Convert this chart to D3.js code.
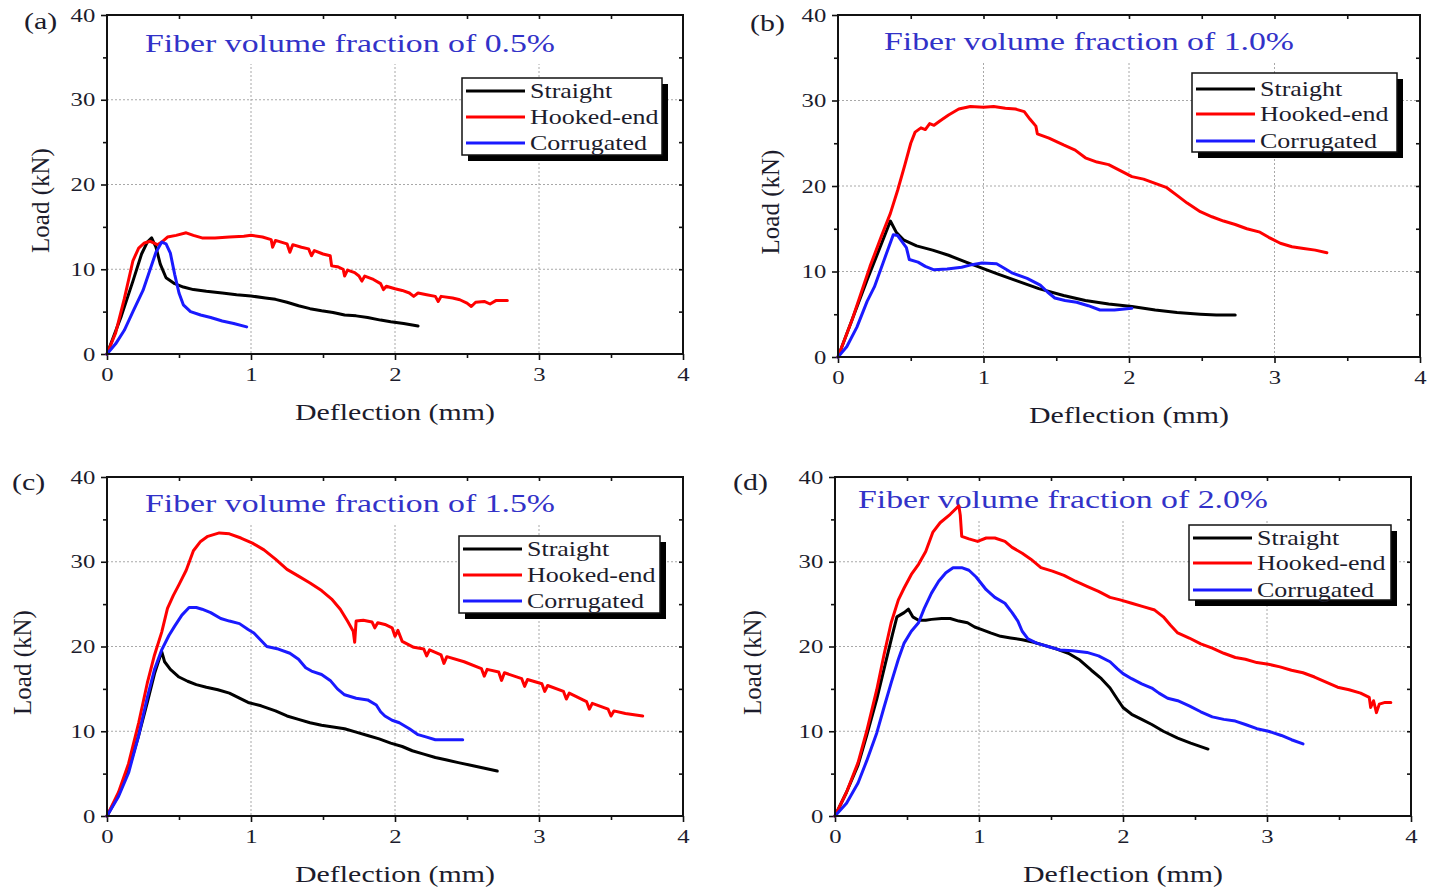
<!DOCTYPE html>
<html>
<head>
<meta charset="utf-8">
<script src="https://cdn.jsdelivr.net/npm/d3@7"></script>
<style>
  body { margin: 0; background: #fff; }
  svg { display: block; font-family: "Liberation Serif", "Times New Roman", serif; }
</style>
</head>
<body>
<svg id="canvas" width="1438" height="890"></svg>
<script>
// Series names and colours
const seriesNames = ["Straight", "Hooked-end", "Corrugated"];
const seriesColors = ["#000000", "#ff0000", "#1a1aff"];
const xTicks = [0, 1, 2, 3, 4];
const yTicks = [0, 10, 20, 30, 40];
const panelLetters = ["(a)", "(b)", "(c)", "(d)"];
const fractions = ["0.5%", "1.0%", "1.5%", "2.0%"];

// (a) Fiber volume fraction 0.5% - [deflection mm, load kN]
const straight05 = [[0,0],[0.1,4.5],[0.18,8.6],[0.24,11.8],[0.28,13.2],[0.31,13.7],[0.34,12.6],[0.37,10.6],[0.41,9.0],[0.47,8.3],[0.53,7.9],[0.6,7.6],[0.69,7.4],[0.8,7.2],[0.9,7.0],[1.0,6.85],[1.1,6.6],[1.17,6.45],[1.25,6.1],[1.33,5.7],[1.41,5.35],[1.49,5.1],[1.57,4.9],[1.65,4.6],[1.73,4.5],[1.81,4.3],[1.9,4.0],[1.97,3.8],[2.06,3.6],[2.16,3.3]];
const hooked05 = [[0,0],[0.06,2.5],[0.12,6.5],[0.18,11.0],[0.22,12.5],[0.26,13.1],[0.3,13.3],[0.35,12.9],[0.38,13.2],[0.42,13.8],[0.48,14.0],[0.55,14.3],[0.6,14.0],[0.66,13.7],[0.75,13.7],[0.85,13.8],[0.95,13.9],[1.0,14.0],[1.08,13.8],[1.14,13.5],[1.15,12.6],[1.17,13.4],[1.25,13.0],[1.27,12.0],[1.29,12.9],[1.35,12.6],[1.4,12.4],[1.42,11.6],[1.44,12.2],[1.5,11.8],[1.55,11.6],[1.56,10.4],[1.6,10.3],[1.64,10.0],[1.65,9.2],[1.67,9.9],[1.72,9.6],[1.75,9.2],[1.77,8.6],[1.79,9.2],[1.85,8.8],[1.9,8.3],[1.92,7.6],[1.94,8.0],[2.0,7.7],[2.05,7.5],[2.1,7.2],[2.13,6.8],[2.16,7.2],[2.22,7.0],[2.28,6.8],[2.3,6.2],[2.32,6.8],[2.4,6.6],[2.45,6.4],[2.5,6.0],[2.53,5.6],[2.56,6.1],[2.62,6.2],[2.66,5.9],[2.7,6.3],[2.78,6.3]];
const corrugated05 = [[0,0],[0.06,1.2],[0.12,2.8],[0.18,5.0],[0.25,7.5],[0.3,10.0],[0.34,12.0],[0.38,13.2],[0.41,13.0],[0.44,11.9],[0.47,9.4],[0.5,7.2],[0.53,5.8],[0.58,5.0],[0.65,4.6],[0.72,4.3],[0.8,3.9],[0.88,3.6],[0.97,3.2]];

// (b) 1.0%
const straight10 = [[0,0],[0.1,4.5],[0.2,9.0],[0.3,13.3],[0.36,15.9],[0.4,14.6],[0.45,13.7],[0.54,13.0],[0.65,12.5],[0.76,11.9],[0.88,11.1],[0.99,10.4],[1.1,9.7],[1.23,8.9],[1.38,8.0],[1.55,7.2],[1.7,6.6],[1.86,6.2],[2.02,5.9],[2.18,5.5],[2.33,5.2],[2.49,5.0],[2.6,4.9],[2.73,4.9]];
const hooked10 = [[0,0],[0.1,4.5],[0.22,10.6],[0.3,14.2],[0.36,16.8],[0.41,19.5],[0.46,22.5],[0.5,25.0],[0.53,26.3],[0.57,26.8],[0.6,26.6],[0.63,27.3],[0.66,27.1],[0.7,27.6],[0.76,28.3],[0.83,29.0],[0.91,29.3],[1.0,29.2],[1.07,29.3],[1.15,29.1],[1.22,29.0],[1.28,28.7],[1.32,27.8],[1.36,27.0],[1.37,26.1],[1.45,25.6],[1.55,24.8],[1.63,24.2],[1.7,23.3],[1.78,22.8],[1.86,22.5],[1.94,21.8],[2.02,21.1],[2.1,20.8],[2.18,20.3],[2.26,19.8],[2.33,18.9],[2.4,18.0],[2.49,17.0],[2.57,16.4],[2.65,15.9],[2.73,15.5],[2.81,15.0],[2.9,14.6],[2.96,14.0],[3.04,13.3],[3.12,12.9],[3.2,12.7],[3.28,12.5],[3.36,12.2]];
const corrugated10 = [[0,0],[0.06,1.2],[0.13,3.5],[0.2,6.5],[0.25,8.2],[0.32,11.5],[0.38,14.3],[0.41,14.2],[0.44,13.5],[0.47,12.8],[0.49,11.4],[0.55,11.1],[0.6,10.6],[0.66,10.2],[0.75,10.3],[0.85,10.5],[0.92,10.8],[0.99,11.0],[1.09,10.9],[1.14,10.4],[1.2,9.8],[1.3,9.2],[1.39,8.4],[1.44,7.6],[1.49,6.9],[1.56,6.6],[1.64,6.4],[1.72,6.0],[1.8,5.5],[1.9,5.5],[2.02,5.7]];

// (c) 1.5%
const straight15 = [[0,0],[0.08,2.5],[0.15,5.5],[0.22,9.5],[0.28,13.4],[0.33,16.8],[0.38,19.4],[0.4,18.2],[0.44,17.3],[0.5,16.4],[0.56,15.9],[0.62,15.5],[0.69,15.2],[0.77,14.9],[0.85,14.5],[0.92,13.9],[0.98,13.4],[1.07,13.0],[1.17,12.4],[1.25,11.8],[1.33,11.4],[1.41,11.0],[1.49,10.7],[1.57,10.5],[1.65,10.3],[1.73,9.9],[1.81,9.5],[1.89,9.1],[1.97,8.6],[2.05,8.2],[2.12,7.7],[2.2,7.3],[2.28,6.9],[2.36,6.6],[2.44,6.3],[2.55,5.9],[2.63,5.6],[2.71,5.3]];
const hooked15 = [[0,0],[0.08,2.8],[0.15,6.2],[0.22,11.0],[0.28,15.7],[0.33,19.0],[0.38,21.7],[0.42,24.5],[0.46,26.0],[0.5,27.3],[0.55,29.0],[0.6,31.3],[0.65,32.4],[0.7,33.0],[0.78,33.4],[0.85,33.3],[0.93,32.8],[1.01,32.2],[1.09,31.4],[1.17,30.3],[1.25,29.1],[1.33,28.3],[1.41,27.5],[1.49,26.6],[1.56,25.6],[1.62,24.4],[1.67,23.0],[1.71,21.8],[1.72,20.5],[1.73,23.0],[1.78,23.1],[1.84,22.9],[1.86,22.2],[1.88,22.8],[1.93,22.6],[1.98,22.2],[2.0,21.2],[2.02,21.9],[2.05,20.6],[2.13,19.9],[2.2,19.7],[2.22,18.9],[2.24,19.6],[2.32,19.0],[2.34,18.0],[2.36,18.8],[2.48,18.2],[2.6,17.4],[2.62,16.5],[2.64,17.3],[2.72,17.0],[2.74,16.0],[2.76,16.9],[2.88,16.2],[2.9,15.3],[2.92,16.1],[3.02,15.6],[3.04,14.7],[3.06,15.4],[3.17,14.7],[3.19,13.8],[3.21,14.5],[3.33,13.5],[3.35,12.6],[3.37,13.3],[3.48,12.6],[3.5,11.8],[3.52,12.4],[3.6,12.1],[3.72,11.8]];
const corrugated15 = [[0,0],[0.08,2.3],[0.15,5.1],[0.22,9.5],[0.28,14.0],[0.33,17.3],[0.38,19.6],[0.43,21.3],[0.47,22.4],[0.52,23.7],[0.57,24.6],[0.62,24.6],[0.66,24.4],[0.72,24.0],[0.79,23.3],[0.85,23.0],[0.92,22.7],[0.98,22.0],[1.02,21.6],[1.07,20.7],[1.11,20.0],[1.19,19.7],[1.27,19.2],[1.33,18.5],[1.38,17.5],[1.42,17.1],[1.49,16.7],[1.55,16.0],[1.6,15.0],[1.65,14.3],[1.73,13.9],[1.81,13.7],[1.87,13.1],[1.9,12.3],[1.93,11.8],[1.98,11.3],[2.03,11.0],[2.1,10.3],[2.16,9.6],[2.22,9.3],[2.28,9.0],[2.38,9.0],[2.47,9.0]];

// (d) 2.0%
const straight20 = [[0,0],[0.08,2.8],[0.16,6.0],[0.22,9.5],[0.29,13.8],[0.35,18.0],[0.4,21.5],[0.43,23.5],[0.48,24.0],[0.51,24.4],[0.54,23.5],[0.58,23.1],[0.63,23.1],[0.67,23.2],[0.74,23.3],[0.8,23.3],[0.86,23.0],[0.92,22.8],[0.97,22.3],[1.02,22.0],[1.08,21.6],[1.15,21.2],[1.22,21.0],[1.3,20.8],[1.38,20.5],[1.46,20.1],[1.54,19.7],[1.62,19.2],[1.7,18.4],[1.78,17.2],[1.85,16.2],[1.91,15.1],[1.96,13.8],[2.0,12.8],[2.06,12.0],[2.13,11.4],[2.2,10.8],[2.28,10.0],[2.38,9.2],[2.47,8.6],[2.59,7.9]];
const hooked20 = [[0,0],[0.08,2.8],[0.16,6.3],[0.22,10.0],[0.29,14.9],[0.34,19.0],[0.39,22.8],[0.44,25.5],[0.48,26.9],[0.53,28.5],[0.58,29.7],[0.63,31.2],[0.68,33.5],[0.73,34.6],[0.8,35.6],[0.86,36.6],[0.87,35.5],[0.88,33.0],[0.93,32.7],[0.99,32.4],[1.05,32.8],[1.11,32.8],[1.18,32.4],[1.23,31.7],[1.3,31.0],[1.36,30.3],[1.43,29.3],[1.51,28.9],[1.59,28.4],[1.67,27.7],[1.75,27.1],[1.83,26.5],[1.91,25.8],[1.98,25.5],[2.06,25.1],[2.14,24.7],[2.22,24.3],[2.28,23.5],[2.33,22.5],[2.38,21.6],[2.46,21.0],[2.54,20.3],[2.62,19.8],[2.7,19.2],[2.78,18.7],[2.85,18.5],[2.93,18.1],[3.01,17.9],[3.09,17.6],[3.17,17.2],[3.25,16.9],[3.33,16.4],[3.41,15.8],[3.49,15.2],[3.57,14.9],[3.65,14.5],[3.71,14.0],[3.72,12.8],[3.74,13.6],[3.76,12.2],[3.78,13.2],[3.82,13.4],[3.86,13.4]];
const corrugated20 = [[0,0],[0.08,1.5],[0.16,3.9],[0.22,6.5],[0.29,9.8],[0.34,12.8],[0.39,15.7],[0.44,18.5],[0.48,20.4],[0.53,21.8],[0.58,22.8],[0.62,24.5],[0.67,26.3],[0.72,27.7],[0.77,28.7],[0.82,29.3],[0.88,29.3],[0.93,29.0],[0.98,28.2],[1.05,26.7],[1.11,25.8],[1.18,25.1],[1.23,24.0],[1.27,23.0],[1.3,21.8],[1.34,20.9],[1.4,20.4],[1.48,20.0],[1.56,19.6],[1.65,19.5],[1.75,19.3],[1.83,18.9],[1.91,18.2],[1.96,17.4],[2.0,16.8],[2.06,16.2],[2.13,15.6],[2.2,15.1],[2.25,14.5],[2.31,13.9],[2.38,13.6],[2.46,13.0],[2.54,12.3],[2.62,11.7],[2.7,11.4],[2.78,11.2],[2.85,10.8],[2.93,10.3],[3.01,10.0],[3.1,9.5],[3.17,9.0],[3.25,8.5]];

const panelSeries = [
  [straight05, hooked05, corrugated05],
  [straight10, hooked10, corrugated10],
  [straight15, hooked15, corrugated15],
  [straight20, hooked20, corrugated20],
];

// Panel layout (pixel boxes of each plot frame, legend, labels)
const layout = [
  { l: 107, r: 683, t: 15, b: 354, lbl: [24, 29], ttl: [145, 52], yt: 40, lg: [462, 78, 200, 77], rows: [13, 39, 65] },
  { l: 838, r: 1420, t: 15, b: 357, lbl: [750, 31], ttl: [884, 50], yt: 770, lg: [1192, 73, 205, 79], rows: [16, 41, 68] },
  { l: 107, r: 683, t: 477, b: 816, lbl: [12, 490], ttl: [145, 512], yt: 22, lg: [459, 536, 201, 77], rows: [13, 39, 65] },
  { l: 835, r: 1411, t: 477, b: 816, lbl: [733, 490], ttl: [858, 508], yt: 752, lg: [1189, 525, 202, 75], rows: [13, 38, 65] },
];

const svg = d3.select("#canvas");
const SX = 1.3; // the figure's text is stretched horizontally

const stretchText = (sel, x, y, txt, size) =>
  sel.append("text")
    .attr("transform", `translate(${x},${y}) scale(${SX},1)`)
    .attr("font-size", size)
    .text(txt);

const drawPanel = (i) => {
  const p = layout[i];
  const g = svg.append("g");
  const x = d3.scaleLinear().domain([0, 4]).range([p.l, p.r]);
  const y = d3.scaleLinear().domain([0, 40]).range([p.b, p.t]);

  // grid
  const grid = g.append("g").attr("stroke", "#a8a8a8").attr("stroke-width", 1).attr("stroke-dasharray", "2,2");
  grid.selectAll(".gx").data(xTicks.slice(1, -1)).enter().append("line")
    .attr("x1", (d) => x(d)).attr("x2", (d) => x(d)).attr("y1", p.t).attr("y2", p.b);
  grid.selectAll(".gy").data(yTicks.slice(1, -1)).enter().append("line")
    .attr("x1", p.l).attr("x2", p.r).attr("y1", (d) => y(d)).attr("y2", (d) => y(d));

  // title with white backing
  const title = stretchText(g, p.ttl[0], p.ttl[1], "Fiber volume fraction of " + fractions[i], 26)
    .attr("fill", "#3232c8");
  const bb = title.node().getBBox();
  g.insert("rect", "text")
    .attr("x", p.ttl[0] - 4).attr("y", p.t + 2)
    .attr("width", bb.width * SX + 8).attr("height", p.ttl[1] + 10 - p.t)
    .attr("fill", "#fff");

  // axes
  const fmt = d3.format("d");
  const bottom = g.append("g").attr("transform", `translate(0,${p.b})`)
    .call(d3.axisBottom(x).tickValues(xTicks).tickFormat(fmt).tickSize(6).tickSizeOuter(0).tickPadding(8));
  g.append("g").attr("transform", `translate(0,${p.b})`)
    .call(d3.axisBottom(x).tickValues([0.5, 1.5, 2.5, 3.5]).tickFormat("").tickSize(4).tickSizeOuter(0));
  const left = g.append("g").attr("transform", `translate(${p.l},0)`)
    .call(d3.axisLeft(y).tickValues(yTicks).tickFormat(fmt).tickSize(6).tickSizeOuter(0).tickPadding(3));
  g.append("g").attr("transform", `translate(${p.l},0)`)
    .call(d3.axisLeft(y).tickValues([5, 15, 25, 35]).tickFormat("").tickSize(4).tickSizeOuter(0));
  g.append("g").attr("transform", `translate(0,${p.t})`)
    .call(d3.axisTop(x).tickValues([0.5, 1, 1.5, 2, 2.5, 3, 3.5]).tickFormat("").tickSize(-4).tickSizeOuter(0));
  g.append("g").attr("transform", `translate(${p.r},0)`)
    .call(d3.axisRight(y).tickValues([5, 10, 15, 20, 25, 30, 35]).tickFormat("").tickSize(-4).tickSizeOuter(0));
  g.selectAll(".domain").remove();
  g.selectAll(".tick line").attr("stroke", "#111").attr("stroke-width", 1.6);
  [bottom, left].forEach((a) =>
    a.selectAll("text")
      .attr("font-family", "Liberation Serif, Times New Roman, serif")
      .attr("font-size", 19)
      .attr("fill", "#1c1c2c")
      .attr("transform", `scale(${SX},1)`)
  );

  // curves
  const line = d3.line().x((d) => x(d[0])).y((d) => y(d[1]));
  panelSeries[i].forEach((s, k) => {
    g.append("path")
      .datum(s)
      .attr("d", line)
      .attr("fill", "none")
      .attr("stroke", seriesColors[k])
      .attr("stroke-width", 3)
      .attr("stroke-linejoin", "round")
      .attr("stroke-linecap", "round");
  });

  // frame
  g.append("rect")
    .attr("x", p.l).attr("y", p.t).attr("width", p.r - p.l).attr("height", p.b - p.t)
    .attr("fill", "none").attr("stroke", "#111").attr("stroke-width", 2);

  // legend
  const [lx, ly, lw, lh] = p.lg;
  g.append("rect").attr("x", lx + 6).attr("y", ly + 6).attr("width", lw).attr("height", lh).attr("fill", "#000");
  g.append("rect").attr("x", lx).attr("y", ly).attr("width", lw).attr("height", lh)
    .attr("fill", "#fff").attr("stroke", "#111").attr("stroke-width", 1.5);
  seriesNames.forEach((name, k) => {
    const ry = ly + p.rows[k];
    g.append("line").attr("x1", lx + 4).attr("x2", lx + 63).attr("y1", ry).attr("y2", ry)
      .attr("stroke", seriesColors[k]).attr("stroke-width", 3);
    stretchText(g, lx + 68, ry + 7, name, 20).attr("fill", "#1c1c2c");
  });

  // axis titles and panel letter
  stretchText(g, (p.l + p.r) / 2, p.b + 66, "Deflection (mm)", 23)
    .attr("text-anchor", "middle").attr("fill", "#1c1c2c");
  g.append("text")
    .attr("transform", `translate(${p.yt + 9},${(p.t + p.b) / 2 + 16}) rotate(-90)`)
    .attr("text-anchor", "middle").attr("font-size", 25).attr("fill", "#1c1c2c")
    .text("Load (kN)");
  stretchText(g, p.lbl[0], p.lbl[1], panelLetters[i], 23).attr("fill", "#1c1c2c");
};

layout.forEach((_, i) => drawPanel(i));
</script>
</body>
</html>
